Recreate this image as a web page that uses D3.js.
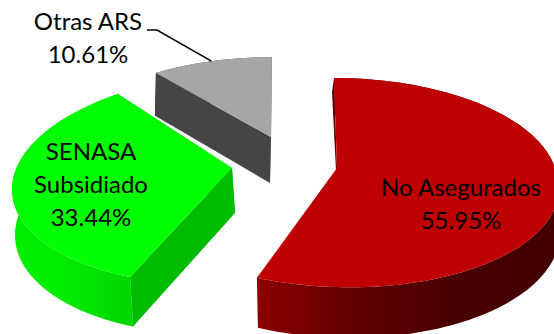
<!DOCTYPE html>
<html><head><meta charset="utf-8">
<script src="https://cdnjs.cloudflare.com/ajax/libs/d3/7.8.5/d3.min.js"></script>
<style>html,body{margin:0;padding:0;background:#fff;overflow:hidden}svg{display:block}
text{font-family:Lato,"Open Sans",sans-serif;font-size:24px;fill:#000;text-anchor:middle}</style>
</head><body>
<script>
const categories = ["No Asegurados", "SENASA Subsidiado", "Otras ARS"];
const shares = [55.95, 33.44, 10.61];
const labelLines = [["No Asegurados", "55.95%"], ["SENASA", "Subsidiado", "33.44%"], ["Otras ARS", "10.61%"]];

const W = 554, H = 334;
// projection of each exploded wedge: apex, radii, perspective, shear, wall depth
const geo = [
  {ax:337, ay:168, A:218, B:102.6, k:.14, cb:3.4, cf:10.7, d:43.5, dx:1,
   top:"#bf0000", cut:"#5a0000", stops:["#8c0000","#600000","#480000","#420000"], cutDx:-2, cutH:14, startCut:true},
  {ax:232, ay:168, A:217, B:104.6, D:-3.9, k:.1, cb:-14.2, cf:-14.2, d:45, dx:3,
   top:"#00ff00", cut:"#00bc00", stops:["#00ec00","#00ee00","#00e400","#00d600"]},
  {ax:271, ay:137, A:202, B:87.8, k:.1, cb:-1, cf:-1, d:46, dx:-1,
   top:"#a6a6a6", cut:"#454545", stops:["#454545","#454545","#454545","#454545"]}
];

const svg = d3.select("body").append("svg").attr("width", W).attr("height", H);
const defs = svg.append("defs");
const line = d3.line();
const arcs = d3.pie().sort(null).value(d => d)(shares);

function project(g, t) {
  const u = Math.sin(t), v = -Math.cos(t), s = 1 / (1 - g.k * v);
  return {x: g.ax + (g.A * u + (v > 0 ? g.cf : g.cb) * v) * s,
          y: g.ay + (g.B * v + (g.D || 0) * u) * s, s};
}

[2, 1, 0].forEach(i => {
  const g = geo[i], a = arcs[i];
  const rim = d3.range(0, 121).map(j => project(g, a.startAngle + (a.endAngle - a.startAngle) * j / 120));
  const first = rim[0], last = rim[rim.length - 1];
  const apex = {x: g.ax, y: g.ay};
  const low = p => [p.x + g.dx, p.y + g.d * (p.s || 1)];
  const xs = d3.extent(rim, p => p.x);
  const grad = defs.append("linearGradient").attr("id", "wall" + i)
    .attr("gradientUnits", "userSpaceOnUse").attr("x1", xs[0]).attr("x2", xs[1]).attr("y1", 0).attr("y2", 0);
  g.stops.forEach((c, j) => grad.append("stop").attr("offset", j / 3).attr("stop-color", c));

  // outer wall
  svg.append("path").attr("fill", `url(#wall${i})`)
    .attr("d", line(rim.map(p => [p.x, p.y]).concat(rim.slice().reverse().map(low))) + "Z");
  // cut walls
  [first, last].forEach(p => {
    if (g.startCut && p === last) return;
    const pts = g.startCut
      ? [[apex.x, apex.y], [p.x, p.y], [p.x + g.cutDx, p.y + g.cutH], [apex.x - 1, apex.y + 3]]
      : [[apex.x, apex.y], [p.x, p.y], low(p), low(apex)];
    svg.append("path").attr("fill", g.cut).attr("d", line(pts) + "Z");
  });
  // top surface
  svg.append("path").attr("fill", g.top)
    .attr("d", line([[apex.x, apex.y]].concat(rim.map(p => [p.x, p.y]))) + "Z");
});

// leader line for the small wedge
const mid = project(geo[2], (arcs[2].startAngle + arcs[2].endAngle) / 2);
svg.append("path").attr("fill", "none").attr("stroke", "#000").attr("stroke-width", 1.5)
  .attr("d", line([[147, 30], [157, 30], [mid.x, mid.y]]));

const labelPos = [{x:461, y:[196, 229]}, {x:91, y:[160, 193, 226]}, {x:88, y:[30, 63]}];
labelLines.forEach((ls, i) => ls.forEach((t, j) =>
  svg.append("text").attr("x", labelPos[i].x).attr("y", labelPos[i].y[j]).text(t)));
</script>
</body></html>
